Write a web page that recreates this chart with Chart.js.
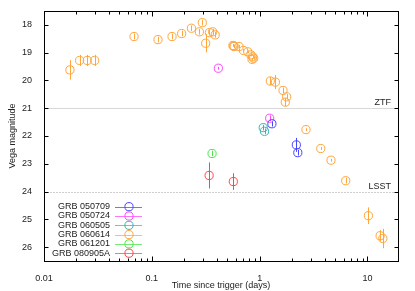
<!doctype html>
<html lang="en">
<head>
    <meta charset="utf-8">
    <title>GRB light curves</title>
    <style>
        body { margin: 0; background: #fff; }
        #wrap { width: 415px; height: 291px; }
    </style>
    <script src="https://cdn.jsdelivr.net/npm/chart.js"></script>
</head>
<body>
<div id="wrap">
    <canvas id="lcChart" width="415" height="291"></canvas>
</div>

<script>
    // time since trigger (days), Vega magnitude and error for each burst
    const names = ['GRB 050709', 'GRB 050724', 'GRB 060505', 'GRB 060614', 'GRB 061201', 'GRB 080905A'];
    const colors = ['#4646ff', '#ff46ff', '#3fb0b0', '#ffa53a', '#46e646', '#ff4646'];

    const t050709 = [1.30, 2.19, 2.26];
    const m050709 = [21.56, 22.32, 22.60];
    const e050709 = [0.10, 0.25, 0.10];

    const t050724 = [0.414, 1.24];
    const m050724 = [19.56, 21.36];
    const e050724 = [0.05, 0.10];

    const t060505 = [1.08, 1.11];
    const m060505 = [21.70, 21.83];
    const e060505 = [0.10, 0.10];

    const t060614 = [0.0174, 0.0214, 0.0252, 0.0295, 0.0684, 0.114, 0.154, 0.189, 0.233, 0.276,
        0.294, 0.316, 0.342, 0.367, 0.387, 0.565, 0.575, 0.580, 0.644, 0.708,
        0.776, 0.83, 0.86, 0.88, 0.85, 1.256, 1.40, 1.648, 1.73, 1.78,
        2.69, 3.69, 4.59, 6.29, 10.2, 13.1, 13.9];
    const m060614 = [19.62, 19.28, 19.28, 19.28, 18.42, 18.53, 18.42, 18.31, 18.12, 18.25,
        17.92, 18.66, 18.28, 18.25, 18.36, 18.74, 18.76, 18.78, 18.78, 18.92,
        18.97, 19.08, 19.15, 19.20, 19.24, 20.02, 20.06, 20.36, 20.78, 20.59,
        21.77, 22.45, 22.87, 23.61, 24.87, 25.59, 25.69];
    const e060614 = [0.35, 0.20, 0.20, 0.20, 0.10, 0.10, 0.10, 0.10, 0.10, 0.10,
        0.10, 0.33, 0.10, 0.10, 0.10, 0.05, 0.05, 0.05, 0.05, 0.05,
        0.05, 0.05, 0.05, 0.05, 0.05, 0.15, 0.25, 0.10, 0.15, 0.10,
        0.05, 0.05, 0.05, 0.10, 0.30, 0.20, 0.35];

    const t061201 = [0.362];
    const m061201 = [22.63];
    const e061201 = [0.10];

    const t080905A = [0.34, 0.57];
    const m080905A = [23.42, 23.64];
    const e080905A = [0.47, 0.30];

    const times = [t050709, t050724, t060505, t060614, t061201, t080905A];
    const mags = [m050709, m050724, m060505, m060614, m061201, m080905A];
    const errs = [e050709, e050724, e060505, e060614, e061201, e080905A];

    // survey limits
    const limitNames = ['ZTF', 'LSST'];
    const limitMags = [21, 24];

    const xMajor = [0.01, 0.1, 1, 10];
    const yMajor = [18, 19, 20, 21, 22, 23, 24, 25, 26];

    const FONT = '"Liberation Sans", Arial, sans-serif';
    const R_PT = 4.1;

    const datasets = names.map((name, i) => ({
        label: name,
        data: times[i].map((t, j) => ({x: t, y: mags[i][j]})),
        errors: errs[i],
        borderColor: colors[i],
        backgroundColor: 'rgba(0,0,0,0)',
        pointStyle: 'circle',
        pointRadius: R_PT,
        pointBorderWidth: 1,
        showLine: false
    }));

    // reference lines, error bars, frame, ticks and legend drawn with the chart's scales
    const decorations = {
        id: 'decorations',
        beforeDatasetsDraw(chart) {
            const ctx = chart.ctx;
            const xs = chart.scales.x, ys = chart.scales.y;
            const area = chart.chartArea;
            ctx.save();
            limitMags.forEach((m, i) => {
                const y = Math.round(ys.getPixelForValue(m)) + 0.5;
                ctx.strokeStyle = i === 0 ? '#d8d8d8' : '#cfcfcf';
                ctx.lineWidth = 1;
                ctx.setLineDash(i === 0 ? [] : [2, 1]);
                ctx.beginPath();
                ctx.moveTo(area.left, y);
                ctx.lineTo(area.right, y);
                ctx.stroke();
                ctx.setLineDash([]);
                ctx.fillStyle = '#222';
                ctx.font = '9px ' + FONT;
                ctx.textAlign = 'right';
                ctx.textBaseline = 'bottom';
                ctx.fillText(limitNames[i], area.right - 7, y - 1);
            });
            // error bars
            chart.data.datasets.forEach(ds => {
                ctx.strokeStyle = ds.borderColor;
                ctx.lineWidth = 1;
                ds.data.forEach((p, j) => {
                    const x = Math.round(xs.getPixelForValue(p.x)) + 0.5;
                    ctx.beginPath();
                    ctx.moveTo(x, ys.getPixelForValue(p.y - ds.errors[j]));
                    ctx.lineTo(x, ys.getPixelForValue(p.y + ds.errors[j]));
                    ctx.stroke();
                });
            });
            ctx.restore();
        },
        afterDraw(chart) {
            const ctx = chart.ctx;
            const xs = chart.scales.x, ys = chart.scales.y;
            const a = chart.chartArea;
            ctx.save();
            ctx.strokeStyle = '#000';
            ctx.lineWidth = 1;
            const L = Math.round(a.left) + 0.5, R = Math.round(a.right) + 0.5;
            const T = Math.round(a.top) + 0.5, B = Math.round(a.bottom) + 0.5;
            ctx.strokeRect(L, T, R - L, B - T);

            ctx.beginPath();
            xMajor.forEach(v => {
                for (let k = 1; k <= 9; k++) {
                    const val = v * k;
                    if (val > xs.max) break;
                    const x = Math.round(xs.getPixelForValue(val)) + 0.5;
                    const len = k === 1 ? 5 : 3;
                    ctx.moveTo(x, B); ctx.lineTo(x, B - len);
                    ctx.moveTo(x, T); ctx.lineTo(x, T + len);
                }
            });
            yMajor.forEach(v => {
                const y = Math.round(ys.getPixelForValue(v)) + 0.5;
                ctx.moveTo(L, y); ctx.lineTo(L + 4, y);
                ctx.moveTo(R, y); ctx.lineTo(R - 4, y);
            });
            ctx.stroke();

            // legend: right-aligned labels then a line sample with a circle
            ctx.font = '9px ' + FONT;
            ctx.textAlign = 'right';
            ctx.textBaseline = 'middle';
            chart.data.datasets.forEach((ds, i) => {
                const y = 206.7 + i * 9.3;
                ctx.fillStyle = '#222';
                ctx.fillText(ds.label, 110, y);
                ctx.globalAlpha = 0.75;
                ctx.strokeStyle = ds.borderColor;
                ctx.beginPath();
                ctx.moveTo(115, Math.round(y) + 0.5);
                ctx.lineTo(142, Math.round(y) + 0.5);
                ctx.stroke();
                ctx.globalAlpha = 1;
                ctx.beginPath();
                ctx.arc(129, y, R_PT, 0, Math.PI * 2);
                ctx.stroke();
            });
            ctx.restore();
        }
    };

    const ctx = document.getElementById('lcChart').getContext('2d');
    new Chart(ctx, {
        type: 'scatter',
        data: { datasets: datasets },
        options: {
            responsive: false,
            animation: false,
            layout: { padding: { top: 11, right: 17, left: 0, bottom: 0 } },
            plugins: {
                legend: { display: false },
                tooltip: { enabled: false }
            },
            scales: {
                x: {
                    type: 'logarithmic',
                    min: 0.01,
                    max: 19.2,
                    afterBuildTicks: scale => { scale.ticks = xMajor.map(v => ({value: v})); },
                    afterFit: scale => { scale.height = 30; },
                    grid: { display: false },
                    border: { display: false },
                    ticks: {
                        color: '#222',
                        padding: 4,
                        maxRotation: 0,
                        font: { family: FONT, size: 9 },
                        callback: v => String(v)
                    },
                    title: {
                        display: true,
                        text: 'Time since trigger (days)',
                        color: '#222',
                        padding: { top: 1, bottom: 0 },
                        font: { family: FONT, size: 9 }
                    }
                },
                y: {
                    reverse: true,
                    min: 17.5,
                    max: 26.5,
                    afterBuildTicks: scale => { scale.ticks = yMajor.map(v => ({value: v})); },
                    afterFit: scale => { scale.width = 44; },
                    grid: { display: false },
                    border: { display: false },
                    ticks: {
                        color: '#222',
                        padding: 4,
                        font: { family: FONT, size: 9 }
                    },
                    title: {
                        display: true,
                        text: 'Vega magnitude',
                        color: '#222',
                        padding: { top: 7, bottom: 0 },
                        font: { family: FONT, size: 9 }
                    }
                }
            }
        },
        plugins: [decorations]
    });
</script>
</body>
</html>
